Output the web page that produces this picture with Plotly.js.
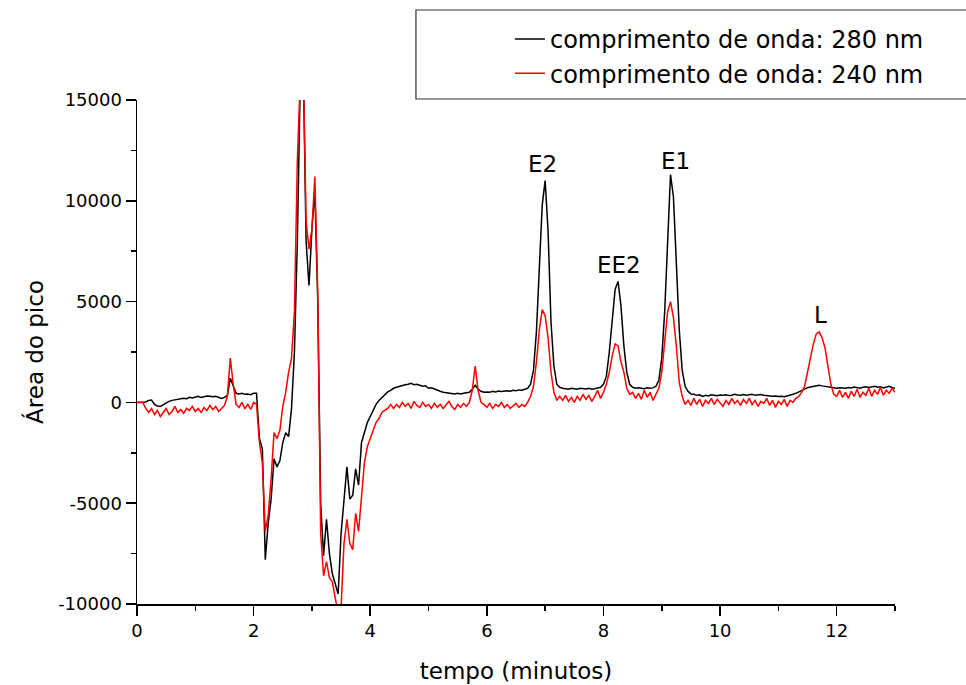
<!DOCTYPE html>
<html>
<head>
<meta charset="utf-8">
<script src="https://cdn.plot.ly/plotly-3.0.1.min.js"></script>
<style>html,body{margin:0;padding:0;background:#fff;}</style>
</head>
<body>
<div id="chart" style="width:966px;height:685px;"></div>
<script>
// sampling step of the time axis (minutes)
const timeStep = 0.05;

// 280 nm signal, one row per minute (20 samples / minute)
const signal280 = [
  0,0,0,20,100,120,-100,-180,-200,-120,0,50,100,120,150,180,200,180,250,220,
  260,300,250,280,320,300,280,300,250,200,250,350,1200,800,450,420,450,400,420,380,
  450,450,-1800,-2300,-7800,-6000,-4800,-2800,-3200,-2900,-2000,-1500,-1700,-300,2500,8000,16000,17000,8000,5800,
  8600,10500,5000,-5000,-7600,-5800,-7500,-8500,-9000,-9500,-6500,-4800,-3200,-4800,-4600,-3300,-4100,-2000,-1500,-1000,
  -700,-400,-100,100,250,400,520,600,700,750,800,850,880,900,950,880,900,850,800,820,
  700,720,650,600,550,500,480,450,430,420,450,420,450,480,500,650,850,650,550,500,
  520,500,550,520,560,540,560,580,550,600,580,620,600,650,700,900,1600,3500,7000,9800,
  11000,8500,4000,1800,900,750,700,680,650,700,680,650,700,680,660,700,650,680,700,750,
  900,1300,2500,4200,5600,6000,4800,2800,1500,900,750,700,720,700,680,720,700,720,800,1100,
  2200,4500,8000,11300,10200,7000,3600,1600,800,550,420,400,350,380,300,350,320,380,350,330,
  370,350,380,340,360,400,370,350,390,360,380,400,350,370,390,360,340,330,300,320,
  290,300,280,320,350,400,450,520,600,680,730,760,800,830,850,820,800,760,750,720,
  700,730,720,700,740,720,760,730,700,750,780,740,760,800,750,780,720,760,800,740,
  700
];

// 240 nm signal, one row per minute (20 samples / minute)
const signal240 = [
  0,0,0,-300,-500,-300,-600,-400,-700,-500,-300,-600,-450,-200,-500,-350,-550,-300,-400,-200,
  -450,-300,-500,-250,-400,-150,-350,-200,-450,-300,-150,300,2200,900,-100,-250,0,-300,-100,-350,
  0,-100,-2000,-3000,-6400,-5600,-3800,-1500,-1800,-1400,-200,500,1500,2200,4500,12000,16000,17000,9000,7600,
  8600,11200,5500,-6500,-8600,-7900,-8700,-8900,-9800,-10500,-10200,-7000,-5800,-7000,-7300,-5500,-6400,-4500,-3000,-2200,
  -1800,-1300,-1000,-800,-500,-400,-300,-100,-300,-100,-250,0,-200,-50,-300,50,-150,-250,0,-200,
  -100,-300,-50,-250,-100,-300,-150,50,-200,-350,-100,-250,-50,-200,0,600,1800,600,0,-100,
  -250,-50,-300,-100,-200,0,-250,-100,-300,-150,-50,-250,-100,-200,0,300,800,2000,3600,4600,
  4300,3200,1500,500,100,300,100,350,50,250,0,300,100,400,150,350,50,300,600,200,
  500,900,1500,2300,2900,2800,2000,1500,700,400,500,200,450,150,600,250,500,100,400,700,
  1500,3000,4500,5000,4200,2800,1000,300,-100,100,-150,200,-100,150,-200,100,-50,200,-100,150,
  0,-200,100,-100,200,-50,100,-150,150,-50,200,-100,100,-200,50,-50,200,-150,100,-250,
  50,-100,150,-200,100,0,200,300,500,800,1500,2300,2900,3400,3500,3200,2700,1800,900,400,
  300,600,250,500,200,550,300,650,250,500,350,700,300,600,400,750,350,600,450,700,
  500
];

const seriesNames = ['comprimento de onda: 280 nm', 'comprimento de onda: 240 nm'];

// y tick labels (hyphen minus as in the original)
const yTickValues = [-10000, -5000, 0, 5000, 10000, 15000];
const yTickLabels = ['-10000', '-5000', '0', '5000', '10000', '15000'];

// peak labels
const peakLabels = ['E2', 'EE2', 'E1', 'L'];
const peakLabelX = [6.95, 8.27, 9.24, 11.73];
const peakLabelY = [11850, 6800, 11980, 4320];

const time280 = signal280.map((_, i) => +(i * timeStep).toFixed(2));
const time240 = signal240.map((_, i) => +(i * timeStep).toFixed(2));

const traces = [
  {x: time280, y: signal280, type: 'scatter', mode: 'lines', name: seriesNames[0],
   line: {color: '#000000', width: 1.5}},
  {x: time240, y: signal240, type: 'scatter', mode: 'lines', name: seriesNames[1],
   line: {color: '#ff0000', width: 1.5}}
];

const FONT = 'DejaVu Sans, Liberation Sans, Arial, sans-serif';

const layout = {
  width: 966, height: 685,
  margin: {l: 137, r: 71, t: 100, b: 81, pad: 0},
  paper_bgcolor: '#ffffff', plot_bgcolor: '#ffffff',
  font: {family: FONT, size: 18, color: '#000'},
  showlegend: true,
  legend: {x: 0.492, y: 1.165, xanchor: 'left', yanchor: 'top',
           font: {family: FONT, size: 24, color: '#000'},
           bgcolor: 'rgba(0,0,0,0)', borderwidth: 0},
  xaxis: {
    range: [0, 13], tick0: 0, dtick: 2, ticks: 'outside', ticklen: 10, tickwidth: 1.5, tickcolor: '#000',
    showline: true, linewidth: 1.5, linecolor: '#000', showgrid: false, zeroline: false, mirror: false,
    tickfont: {family: FONT, size: 18, color: '#000'},
    minor: {tick0: 0, dtick: 1, ticks: 'outside', ticklen: 5, tickwidth: 1.5, tickcolor: '#000', showgrid: false},
    title: {text: 'tempo (minutos)', font: {family: FONT, size: 23, color: '#000'}, standoff: 23}
  },
  yaxis: {
    range: [-10000, 15000], tickmode: 'array', tickvals: yTickValues, ticktext: yTickLabels,
    ticks: 'outside', ticklen: 10, tickwidth: 1.5, tickcolor: '#000',
    showline: true, linewidth: 1.5, linecolor: '#000', showgrid: false, zeroline: false, mirror: false,
    tickfont: {family: FONT, size: 18, color: '#000'},
    minor: {tick0: 0, dtick: 2500, ticks: 'outside', ticklen: 5, tickwidth: 1.5, tickcolor: '#000', showgrid: false},
    title: {text: 'Área do pico', font: {family: FONT, size: 23, color: '#000'}, standoff: 8}
  },
  annotations: peakLabels.map((txt, i) => ({
    text: txt, x: peakLabelX[i], y: peakLabelY[i], xref: 'x', yref: 'y',
    showarrow: false, xanchor: 'center', yanchor: 'middle',
    font: {family: FONT, size: 23, color: '#000'}
  })),
  shapes: [
    {type: 'rect', xref: 'paper', yref: 'paper', x0: 0.368, x1: 1.2, y0: 1.002, y1: 1.1786,
     line: {color: '#333333', width: 1.2}, fillcolor: 'rgba(0,0,0,0)', layer: 'above'}
  ]
};

Plotly.newPlot('chart', traces, layout, {displayModeBar: false, staticPlot: true});
</script>
</body>
</html>
